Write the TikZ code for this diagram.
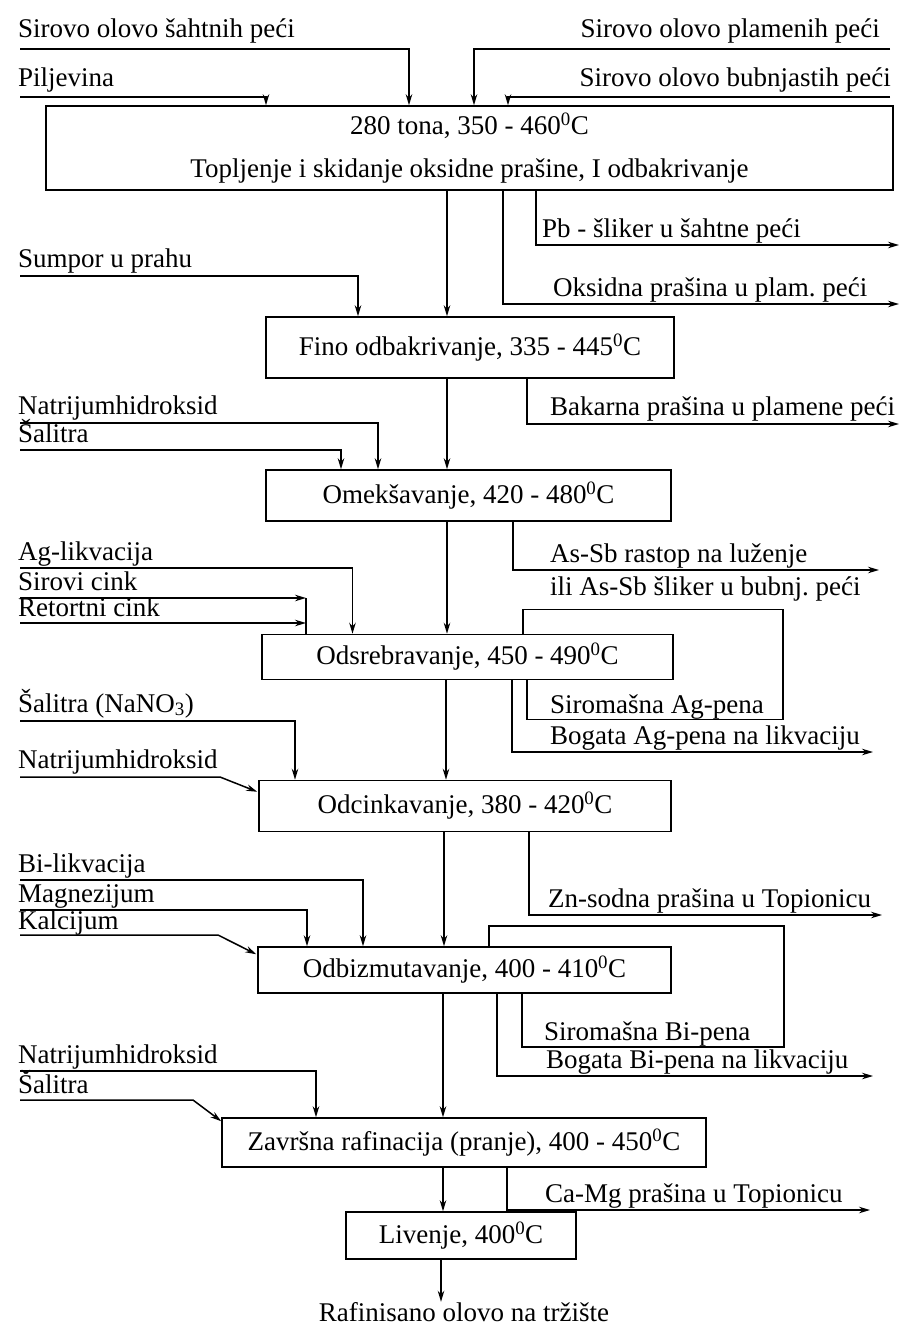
\documentclass[tikz,border=0pt]{standalone}
\usepackage{fontspec}
\setmainfont{Liberation Serif}
\usetikzlibrary{arrows.meta}
\newcommand{\celz}{\textsuperscript{0}C}
\frenchspacing

\begin{document}
\begin{tikzpicture}[x=1pt,y=-1pt,
    font=\fontsize{27}{31}\selectfont,
    box/.style={draw, line width=1.5pt, inner sep=0pt, align=center},
    flow/.style={line width=1.5pt, -{Stealth[length=11pt,width=6.5pt]}},
    plain/.style={line width=1.5pt},
    lbl/.style={anchor=base west, inner sep=0pt},
    lblr/.style={anchor=base east, inner sep=0pt}]
\useasboundingbox (0,0) rectangle (904,1327);

% process steps
\node[box, minimum width=847, minimum height=84] (topl) at (469.5,148)
  {280 tona, 350 - 460\celz\\[12pt]Topljenje i skidanje oksidne prašine, I odbakrivanje};
\node[box, minimum width=408, minimum height=61] (fino) at (470,347.5) {Fino odbakrivanje, 335 - 445\celz};
\node[box, minimum width=405, minimum height=51] (omek) at (468.5,495.5) {Omekšavanje, 420 - 480\celz};
\node[box, minimum width=411, minimum height=45] (odsr) at (467.5,657) {Odsrebravanje, 450 - 490\celz};
\node[box, minimum width=412, minimum height=51] (odci) at (465,806) {Odcinkavanje, 380 - 420\celz};
\node[box, minimum width=413, minimum height=46] (odbi) at (464.5,970) {Odbizmutavanje, 400 - 410\celz};
\node[box, minimum width=484, minimum height=49] (zavr) at (464,1142.5) {Završna rafinacija (pranje), 400 - 450\celz};
\node[box, minimum width=230, minimum height=47] (live) at (461,1235.5) {Livenje, 400\celz};
\node[anchor=base, inner sep=0pt] (rafi) at (464,1321) {Rafinisano olovo na tržište};

% main stream
\draw[flow] ([xshift=-22.5]topl.south) -- ([xshift=-23]fino.north);
\draw[flow] ([xshift=-23]fino.south) -- ([xshift=-21.5]omek.north);
\draw[flow] ([xshift=-21.5]omek.south) -- ([xshift=-20.5]odsr.north);
\draw[flow] ([xshift=-21.5]odsr.south) -- ([xshift=-19]odci.north);
\draw[flow] ([xshift=-21]odci.south) -- ([xshift=-20.5]odbi.north);
\draw[flow] ([xshift=-21.5]odbi.south) -- ([xshift=-21]zavr.north);
\draw[flow] ([xshift=-21]zavr.south) -- ([xshift=-18]live.north);
\draw[flow] ([xshift=-20]live.south) -- ([xshift=-23]rafi.north);

% charge of the kettle
\coordinate (inA) at (20,49);
\node[lbl] (labA) at (18,38) {Sirovo olovo šahtnih peći};
\draw[flow] (inA) -| ([xshift=-60.5]topl.north);
\coordinate (inB) at (890,49);
\node[lblr] (labB) at (880,38) {Sirovo olovo plamenih peći};
\draw[flow] (inB) -| ([xshift=4.5]topl.north);
\coordinate (inC) at (20,97);
\node[lbl] (labC) at (18,87) {Piljevina};
\draw[flow] (inC) -| ([xshift=-203.5]topl.north);
\coordinate (inD) at (890,97);
\node[lblr] (labD) at (891,87) {Sirovo olovo bubnjastih peći};
\draw[flow] (inD) -| ([xshift=38.5]topl.north);

\coordinate (outA) at (899,245);
\node[lbl] (labPb) at (542,237) {Pb - šliker u šahtne peći};
\draw[flow] ([xshift=66.5]topl.south) |- (outA);
\coordinate (outB) at (899,304);
\node[lbl] (labOk) at (553,296) {Oksidna prašina u plam. peći};
\draw[flow] ([xshift=33.5]topl.south) |- (outB);

% fine decoppering
\coordinate (inE) at (20,276);
\node[lbl] (labE) at (18,267) {Sumpor u prahu};
\draw[flow] (inE) -| ([xshift=-112]fino.north);
\coordinate (outC) at (899,424);
\node[lbl] (labBa) at (550,415) {Bakarna prašina u plamene peći};
\draw[flow] ([xshift=57]fino.south) |- (outC);

% softening
\coordinate (inF) at (20,423);
\node[lbl] (labF) at (18,414) {Natrijumhidroksid};
\draw[flow] (inF) -| ([xshift=-90.5]omek.north);
\coordinate (inG) at (20,450);
\node[lbl] (labG) at (18,442) {Šalitra};
\draw[flow] (inG) -| ([xshift=-127.5]omek.north);
\coordinate (outD) at (879,570);
\node[lbl] (labAs) at (550,562) {As-Sb rastop na luženje};
\node[lbl] (labAs2) at (550,595) {ili As-Sb šliker u bubnj. peći};
\draw[flow] ([xshift=44.5]omek.south) |- (outD);

% desilvering
\coordinate (inH) at (20,568);
\node[lbl] (labH) at (18,560) {Ag-likvacija};
\draw[flow] (inH) -| ([xshift=-115]odsr.north);
\coordinate (inI) at (20,598);
\coordinate (zn) at (306,598);
\node[lbl] (labI) at (18,590) {Sirovi cink};
\draw[flow] (inI) -- (zn);
\coordinate (inJ) at (20,623);
\node[lbl] (labJ) at (18,616) {Retortni cink};
\draw[flow] (inJ) -- (inJ -| zn);
\draw[plain] (zn) -- ([xshift=-161.5]odsr.north);
\node[lbl] (labAg1) at (550,713) {Siromašna Ag-pena};
\draw[plain] ([xshift=59.5]odsr.south) -- ++(0,39) -| ++(256,-110) -| ([xshift=55.5]odsr.north);
\coordinate (outE) at (873,752);
\node[lbl] (labAg2) at (550,744) {Bogata Ag-pena na likvaciju};
\draw[flow] ([xshift=44.5]odsr.south) |- (outE);

% dezincing
\coordinate (inK) at (20,721);
\node[lbl] (labK) at (18,712) {Šalitra (NaNO\textsubscript{3})};
\draw[flow] (inK) -| ([xshift=-170]odci.north);
\coordinate (inL) at (20,777);
\node[lbl] (labL) at (18,768) {Natrijumhidroksid};
\draw[flow] (inL) -- ++(200,0) -- ([xshift=-1,yshift=-12]odci.north west);
\coordinate (outF) at (882,915);
\node[lbl] (labZn) at (548,907) {Zn-sodna prašina u Topionicu};
\draw[flow] ([xshift=64]odci.south) |- (outF);

% debismuthizing
\coordinate (inM) at (20,880);
\node[lbl] (labM) at (18,872) {Bi-likvacija};
\draw[flow] (inM) -| ([xshift=-101.5]odbi.north);
\coordinate (inN) at (20,910);
\node[lbl] (labN) at (18,902) {Magnezijum};
\draw[flow] (inN) -| ([xshift=-157.5]odbi.north);
\coordinate (inO) at (20,935);
\node[lbl] (labO) at (18,929) {Kalcijum};
\draw[flow] (inO) -- ++(198,0) -- ([xshift=-1,yshift=-8]odbi.north west);
\node[lbl] (labBi1) at (544,1040) {Siromašna Bi-pena};
\draw[plain] ([xshift=57.5]odbi.south) -- ++(0,53) -| ++(262,-121) -| ([xshift=24.5]odbi.north);
\coordinate (outG) at (873,1076);
\node[lbl] (labBi2) at (546,1068) {Bogata Bi-pena na likvaciju};
\draw[flow] ([xshift=32.5]odbi.south) |- (outG);

% final refining
\coordinate (inP) at (20,1071);
\node[lbl] (labP) at (18,1063) {Natrijumhidroksid};
\draw[flow] (inP) -| ([xshift=-148]zavr.north);
\coordinate (inQ) at (20,1100);
\node[lbl] (labQ) at (18,1093) {Šalitra};
\draw[flow] (inQ) -- ++(173,0) -- ([xshift=0,yshift=-4]zavr.north west);
\coordinate (outH) at (870,1210);
\node[lbl] (labCa) at (545,1202) {Ca-Mg prašina u Topionicu};
\draw[flow] ([xshift=43]zavr.south) |- (outH);
\end{tikzpicture}
\end{document}
